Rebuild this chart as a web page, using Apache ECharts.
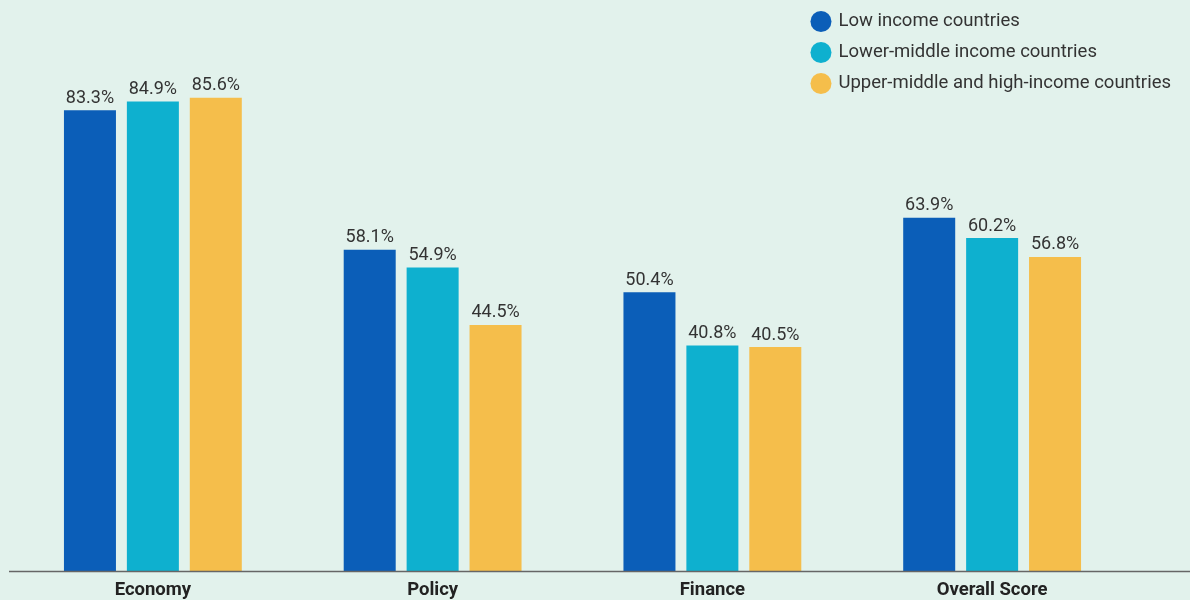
<!DOCTYPE html>
<html>
<head>
<meta charset="utf-8">
<script src="https://cdn.jsdelivr.net/npm/echarts@6/dist/echarts.min.js"></script>
<style>
  html, body { margin: 0; padding: 0; background: #e2f2ec; }
  #chart { width: 1190px; height: 600px; }
</style>
</head>
<body>
<div id="chart"></div>
<script>
// Pillar scores by country income group (%)
const categories = ['Economy', 'Policy', 'Finance', 'Overall Score'];
const seriesNames = [
  'Low income countries',
  'Lower-middle income countries',
  'Upper-middle and high-income countries'
];
const lowIncome = [83.3, 58.1, 50.4, 63.9];
const lowerMiddle = [84.9, 54.9, 40.8, 60.2];
const upperMiddleHigh = [85.6, 44.5, 40.5, 56.8];
const colors = ['#0b5eb8', '#0eb0cf', '#f5be4b'];

const chart = echarts.init(document.getElementById('chart'));
const font = 'Roboto, "Noto Sans", sans-serif';

function barSeries(name, data, color) {
  return {
    name: name,
    type: 'bar',
    data: data,
    barWidth: 52,
    barGap: '21%',
    itemStyle: { color: color },
    label: {
      show: true,
      position: 'top',
      distance: 3,
      formatter: p => p.value.toFixed(1) + '%',
      fontFamily: font,
      fontSize: 18,
      color: '#333'
    }
  };
}

chart.setOption({
  backgroundColor: '#e2f2ec',
  animation: false,
  textStyle: { fontFamily: font },
  legend: {
    orient: 'vertical',
    right: 14,
    top: 6,
    icon: 'circle',
    itemWidth: 21,
    itemHeight: 21,
    itemGap: 10,
    textStyle: { fontSize: 18.5, color: '#333', fontFamily: font, padding: [0, 0, 0, 2] },
    data: seriesNames
  },
  grid: { left: 13, right: 58, top: 18, bottom: 29, containLabel: false },
  xAxis: {
    type: 'category',
    data: categories,
    axisLine: { show: false },
    axisTick: { show: false },
    axisLabel: {
      fontWeight: 'bold',
      fontSize: 18.5,
      color: '#222',
      margin: 10,
      fontFamily: font
    }
  },
  yAxis: {
    type: 'value',
    min: 0,
    max: 100,
    show: false,
    splitLine: { show: false }
  },
  series: [
    barSeries(seriesNames[0], lowIncome, colors[0]),
    barSeries(seriesNames[1], lowerMiddle, colors[1]),
    barSeries(seriesNames[2], upperMiddleHigh, colors[2])
  ]
});

// Baseline running the full width of the page at value 0
const baseY = Math.round(chart.convertToPixel({ yAxisIndex: 0 }, 0)) + 0.5;
chart.setOption({
  graphic: [{
    type: 'line',
    shape: { x1: 9, y1: baseY, x2: 1190, y2: baseY },
    style: { stroke: '#666', lineWidth: 1.5 },
    z: 10
  }]
});
</script>
</body>
</html>
